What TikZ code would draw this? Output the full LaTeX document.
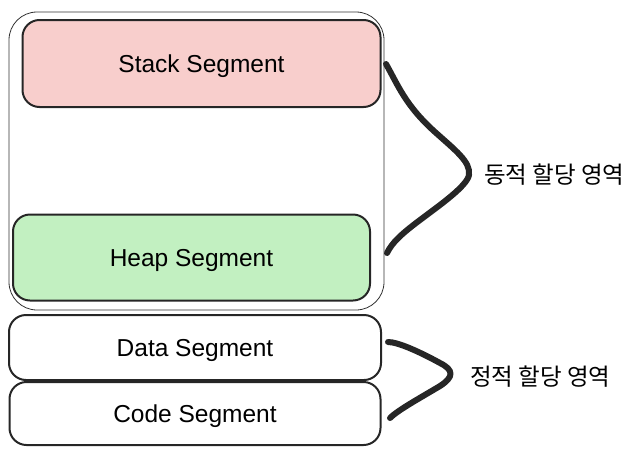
\documentclass[tikz,border=0pt]{standalone}
\usepackage{fontspec}
\setmainfont{Liberation Sans}
\newfontfamily\kofont{Noto Sans CJK KR}
\usetikzlibrary{positioning}

\begin{document}
\begin{tikzpicture}[
x=1pt, y=-1pt,
region/.style ={rectangle, draw=black!80, line width=0.8pt,
  rounded corners=28pt, minimum width=375pt, minimum height=298pt
},
seg/.style ={rectangle, draw=black!85, line width=2pt,
  rounded corners=17pt, text centered, text depth=0pt,
  font=\fontsize{24.5}{28}\selectfont},
stackseg/.style ={seg, fill=stackred},
heapseg/.style ={seg, fill=heapgreen},
brace/.style ={draw=black!85, line width=6pt, line cap=round, line join=round},
label/.style ={anchor=west, inner sep=0pt,
  font=\kofont\fontsize{23.5}{28}\selectfont}
]
\definecolor{stackred}{HTML}{F8CECC}
\definecolor{heapgreen}{HTML}{C2F0C1}
\useasboundingbox (0,0) rectangle (634,458);

\node[region] (dyn) at (196.5,161) {};
\node[stackseg, minimum width=358pt, minimum height=87pt] (stack) at (201.5,63.5) {Stack Segment};
\node[heapseg, minimum width=357pt, minimum height=86pt] (heap) at (191.5,257.5) {Heap Segment};
\node[seg, minimum width=372pt, minimum height=65pt] (data) at (195,347.5) {Data Segment};
\node[seg, minimum width=371pt, minimum height=63pt] (code) [below=0pt of data] {Code Segment};

\node[label] (dynlabel) at (484,175) {동적 할당 영역};
\node[label] (statlabel) at (470,377) {정적 할당 영역};

% braces
\path[brace]
(386,64) .. controls (398,85) and (405,105) .. (435,132)
  .. controls (455,150) and (471,162) .. (469,175)
  .. controls (467,186) and (440,205) .. (420,220)
  .. controls (400,235) and (392,243) .. (387,253);
\path[brace]
(388,342) .. controls (398,342) and (420,352) .. (440,363)
  .. controls (454,370) and (454,377) .. (440,386)
  .. controls (420,398) and (398,410) .. (390,418);
\end{tikzpicture}
\end{document}
